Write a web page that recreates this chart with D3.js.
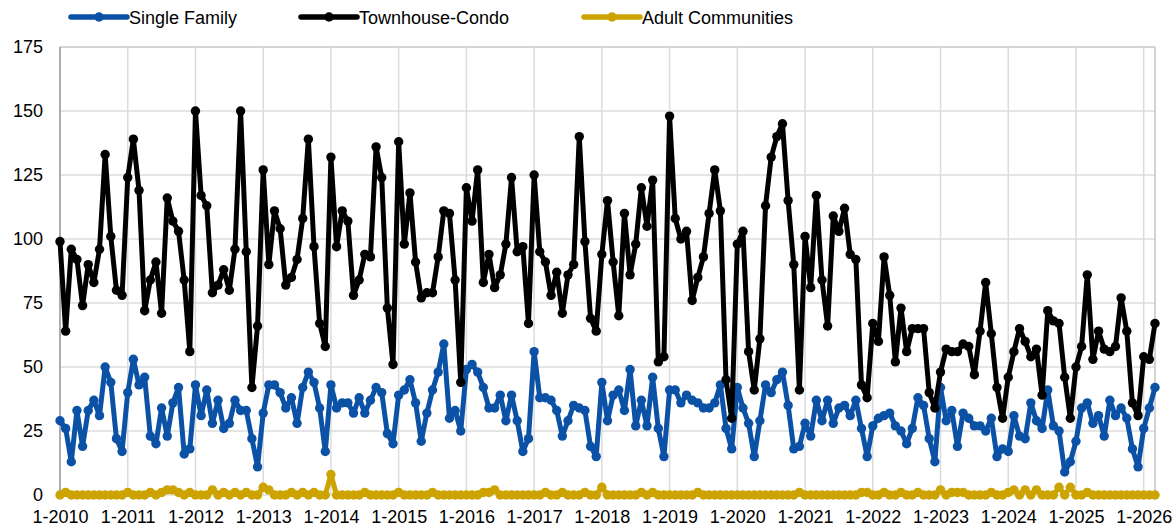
<!DOCTYPE html>
<html>
<head>
<meta charset="utf-8">
<script src="https://cdn.jsdelivr.net/npm/d3@7"></script>
<style>
  body { margin: 0; background: #fff; }
  svg text { font-family: "Liberation Sans", Arial, Helvetica, sans-serif; }
</style>
</head>
<body>
<svg id="chart" width="1174" height="528"></svg>
<script>
  // ============================================================
  // Data: monthly counts, 1-2010 .. 3-2026
  // ============================================================

  const startYear = 2010;
  const seriesNames = ["Single Family", "Townhouse-Condo", "Adult Communities"];
  const seriesColors = ["#0b51a5", "#000000", "#cca300"];
  const yTicks = [0, 25, 50, 75, 100, 125, 150, 175];

  const singleFamily = [
    29, 26, 13, 33, 19, 33, 37, 31, 50, 44, 22, 17,
    40, 53, 43, 46, 23, 20, 34, 23, 36, 42, 16, 18,
    43, 31, 41, 28, 37, 26, 28, 37, 33, 33, 22, 11,
    32, 43, 43, 40, 34, 38, 28, 42, 48, 44, 34, 17,
    43, 34, 36, 36, 32, 38, 32, 37, 42, 40, 24, 20,
    39, 41, 45, 36, 21, 32, 41, 48, 59, 30, 33, 25,
    49, 51, 48, 42, 34, 34, 39, 29, 39, 29, 17, 22,
    56, 38, 38, 37, 33, 23, 29, 35, 34, 33, 19, 15,
    44, 29, 39, 41, 33, 49, 27, 37, 27, 46, 26, 15,
    41, 41, 36, 39, 37, 36, 34, 34, 36, 43, 26, 18,
    42, 34, 28, 15, 29, 43, 40, 45, 48, 35, 18, 19,
    28, 23, 37, 29, 37, 28, 34, 35, 31, 37, 26, 15,
    27, 30, 31, 32, 27, 25, 20, 26, 38, 35, 22, 13,
    42, 29, 33, 19, 32, 30, 27, 27, 25, 30, 15, 18,
    17, 31, 23, 22, 36, 29, 26, 41, 27, 25, 9, 13,
    21, 34, 36, 28, 31, 23, 37, 31, 34, 30, 18, 11,
    26, 34, 42
  ];

  const townhouseCondo = [
    99, 64, 96, 92, 74, 90, 83, 96, 133, 101, 80, 78,
    124, 139, 119, 72, 84, 91, 71, 116, 107, 103, 84, 56,
    150, 117, 113, 79, 82, 88, 80, 96, 150, 95, 42, 66,
    127, 90, 111, 104, 82, 85, 92, 108, 139, 97, 67, 58,
    132, 97, 111, 107, 78, 84, 94, 93, 136, 124, 73, 51,
    138, 98, 118, 91, 77, 79, 79, 93, 111, 110, 84, 44,
    120, 107, 127, 83, 94, 81, 86, 98, 124, 95, 97, 67,
    125, 95, 91, 78, 87, 71, 86, 90, 140, 99, 69, 64,
    94, 115, 91, 70, 110, 86, 98, 120, 105, 123, 52, 54,
    148, 108, 100, 103, 76, 85, 93, 110, 127, 111, 45, 30,
    98, 103, 56, 41, 61, 113, 132, 140, 145, 115, 90, 41,
    101, 81, 117, 84, 66, 109, 103, 112, 94, 92, 43, 38,
    67, 60, 93, 78, 52, 73, 56, 65, 65, 65, 40, 34,
    48, 57, 56, 56, 59, 58, 47, 64, 83, 63, 42, 30,
    46, 56, 65, 60, 54, 57, 39, 72, 68, 67, 46, 30,
    50, 58, 86, 53, 64, 57, 56, 58, 77, 64, 36, 31,
    54, 53, 67
  ];

  const adultCommunities = [
    0, 1, 0, 0, 0, 0, 0, 0, 0, 0, 0, 0,
    1, 0, 0, 0, 1, 0, 1, 2, 2, 1, 0, 1,
    0, 0, 0, 2, 0, 1, 0, 1, 0, 1, 0, 0,
    3, 2, 0, 0, 0, 1, 0, 1, 0, 1, 0, 0,
    8, 0, 0, 0, 0, 0, 1, 0, 0, 0, 0, 0,
    1, 0, 0, 0, 0, 0, 1, 0, 0, 0, 0, 0,
    0, 0, 0, 1, 1, 2, 0, 0, 0, 0, 0, 0,
    0, 0, 1, 0, 0, 1, 0, 0, 0, 1, 0, 0,
    3, 0, 0, 0, 0, 0, 0, 1, 0, 1, 0, 0,
    0, 0, 0, 0, 0, 1, 0, 0, 0, 0, 0, 0,
    0, 0, 0, 0, 0, 0, 0, 0, 0, 0, 0, 1,
    0, 0, 0, 0, 0, 0, 0, 0, 0, 0, 1, 1,
    0, 0, 1, 0, 0, 1, 0, 0, 1, 0, 0, 0,
    2, 0, 1, 1, 1, 0, 0, 0, 0, 1, 0, 0,
    1, 2, 0, 2, 0, 2, 0, 0, 0, 3, 0, 3,
    0, 0, 1, 0, 0, 0, 0, 0, 0, 0, 0, 0,
    0, 0, 0
  ];

  const allSeries = [singleFamily, townhouseCondo, adultCommunities];
  const nMonths = townhouseCondo.length;
  // label every January
  const xTickIdx = d3.range(0, nMonths, 12);

  // ============================================================
  // Scales
  // ============================================================

  const svg = d3.select("#chart");
  const plotL = 60, plotR = 1155, plotT = 47, plotB = 495;

  const x = d3.scaleLinear().domain([0, nMonths - 1]).range([plotL, plotR]);
  const y = d3.scaleLinear().domain([0, 175]).range([plotB, plotT]);

  // Gridlines
  const grid = svg.append("g").attr("class", "grid");
  yTicks.forEach(t => {
    grid.append("line")
      .attr("x1", plotL).attr("x2", plotR)
      .attr("y1", y(t)).attr("y2", y(t))
      .attr("stroke", t === 175 ? "#c4c4c4" : "#dcdcdc").attr("stroke-width", 1.5);
  });
  xTickIdx.forEach(i => {
    grid.append("line")
      .attr("x1", x(i)).attr("x2", x(i))
      .attr("y1", plotT).attr("y2", plotB)
      .attr("stroke", "#dcdcdc").attr("stroke-width", 1.5);
  });
  // right border + left axis
  grid.append("line")
    .attr("x1", plotR).attr("x2", plotR).attr("y1", plotT).attr("y2", plotB)
    .attr("stroke", "#c4c4c4").attr("stroke-width", 1.5);
  grid.append("line")
    .attr("x1", plotL).attr("x2", plotL).attr("y1", plotT).attr("y2", plotB)
    .attr("stroke", "#9a9a9a").attr("stroke-width", 1.5);

  // Axes (labels only, lines drawn above)
  const yAxis = svg.append("g")
    .attr("transform", `translate(${plotL},0)`)
    .call(d3.axisLeft(y).tickValues(yTicks).tickSize(0).tickPadding(17));
  yAxis.select(".domain").remove();
  yAxis.selectAll("text").attr("font-size", 18).attr("fill", "#000")
    .style("font-family", "'Liberation Sans', Arial, sans-serif");

  const xAxis = svg.append("g")
    .attr("transform", `translate(0,${plotB})`)
    .call(d3.axisBottom(x).tickValues(xTickIdx).tickSize(0).tickPadding(15)
      .tickFormat(i => "1-" + (startYear + i / 12)));
  xAxis.select(".domain").remove();
  xAxis.selectAll("text").attr("font-size", 18).attr("fill", "#000")
    .style("font-family", "'Liberation Sans', Arial, sans-serif");

  // ============================================================
  // Series
  // ============================================================

  const line = d3.line().x((d, i) => x(i)).y(d => y(d));
  const drawOrder = [0, 1, 2];
  drawOrder.forEach(s => {
    const g = svg.append("g").attr("class", "series-" + s);
    g.append("path")
      .datum(allSeries[s])
      .attr("d", line)
      .attr("fill", "none")
      .attr("stroke", seriesColors[s])
      .attr("stroke-width", 5)
      .attr("stroke-linejoin", "round");
    g.selectAll("circle")
      .data(allSeries[s])
      .join("circle")
      .attr("cx", (d, i) => x(i)).attr("cy", d => y(d))
      .attr("r", 4.7)
      .attr("fill", seriesColors[s]);
  });

  // ============================================================
  // Legend
  // ============================================================

  const legendX = [71, 301, 584];
  const legend = svg.append("g").attr("class", "legend");
  seriesNames.forEach((name, s) => {
    const lx = legendX[s];
    legend.append("line")
      .attr("x1", lx).attr("x2", lx + 56)
      .attr("y1", 17).attr("y2", 17)
      .attr("stroke", seriesColors[s]).attr("stroke-width", 5.5)
      .attr("stroke-linecap", "round");
    legend.append("circle")
      .attr("cx", lx + 28).attr("cy", 17).attr("r", 4.7)
      .attr("fill", seriesColors[s]);
    legend.append("text")
      .attr("x", lx + 58).attr("y", 24)
      .attr("font-size", 18).attr("fill", "#000")
      .text(name);
  });
</script>
</body>
</html>
